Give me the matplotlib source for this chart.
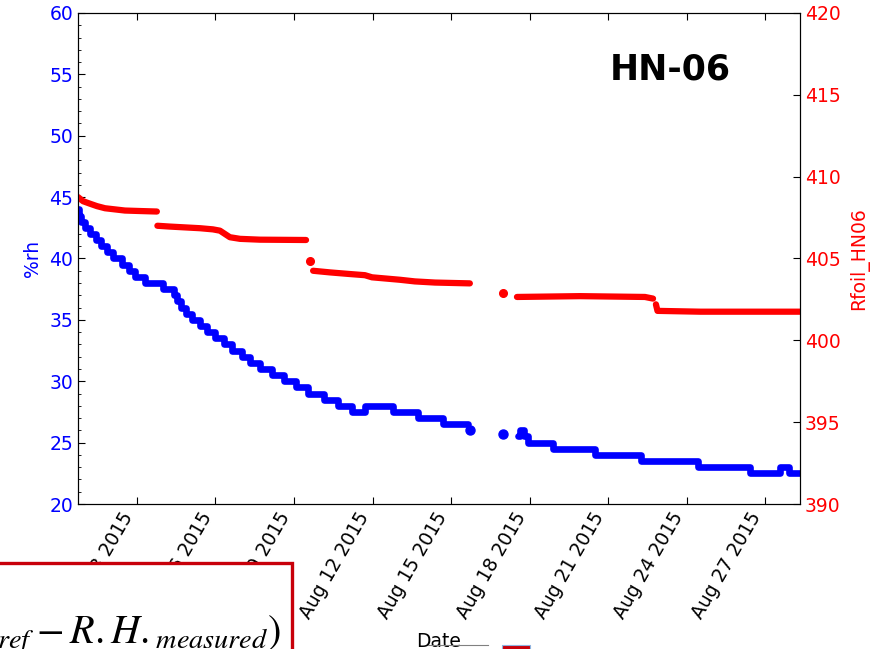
import matplotlib
matplotlib.use("Agg")
import matplotlib.pyplot as plt
import matplotlib.dates as mdates
from matplotlib.patches import Rectangle
from matplotlib.lines import Line2D
from datetime import datetime, timedelta

# humidity (%rh), held values: time in fractional days of August 2015
rh_days_a = [0.75, 0.80, 0.86, 1.01, 1.20, 1.43, 1.62, 1.85, 2.08, 2.43, 2.69, 2.92, 3.31,
             3.99, 4.41, 4.53, 4.68, 4.87, 5.10, 5.41, 5.68, 5.98, 6.32, 6.63, 7.01, 7.32,
             7.70, 8.16, 8.62, 9.08, 9.53, 10.15, 10.68, 11.22, 11.71, 12.78, 13.74, 14.69, 15.65]
rh_vals_a = [44.0, 43.5, 43.0, 42.5, 42.0, 41.5, 41.0, 40.5, 40.0, 39.5, 39.0, 38.5, 38.0,
             37.5, 37.0, 36.5, 36.0, 35.5, 35.0, 34.5, 34.0, 33.5, 33.0, 32.5, 32.0, 31.5,
             31.0, 30.5, 30.0, 29.5, 29.0, 28.5, 28.0, 27.5, 28.0, 27.5, 27.0, 26.5, 26.5]
rh_days_b = [17.56, 17.62, 17.79, 17.94, 18.90, 20.50, 22.26, 24.44, 26.42, 27.57, 27.92, 28.33]
rh_vals_b = [25.5, 26.0, 25.5, 25.0, 24.5, 24.0, 23.5, 23.0, 22.5, 23.0, 22.5, 22.5]
rh_single_days = [15.72, 16.97]
rh_single_vals = [26.0, 25.7]

# foil resistance
rf_segments = [
    ([0.75, 0.94, 1.20, 1.47, 1.78, 2.16, 2.54, 3.12, 3.76],
     [408.75, 408.5, 408.35, 408.2, 408.07, 408.0, 407.93, 407.9, 407.87]),
    ([3.78, 4.26, 5.41, 5.90, 6.17, 6.36, 6.55, 6.94, 7.70, 9.46],
     [407.0, 406.95, 406.85, 406.78, 406.7, 406.5, 406.3, 406.2, 406.15, 406.13]),
    ([9.73, 10.38, 11.14, 11.71, 11.98, 12.48, 13.05, 13.62, 14.39, 15.72],
     [404.25, 404.15, 404.05, 403.98, 403.85, 403.78, 403.7, 403.6, 403.53, 403.48]),
    ([17.52, 19.93, 22.41, 22.72],
     [402.65, 402.7, 402.65, 402.55]),
    ([22.83, 22.89, 24.53, 28.33],
     [402.2, 401.8, 401.75, 401.75]),
]
rf_single_days = [9.61, 16.97]
rf_single_vals = [404.85, 402.92]

start = datetime(2015, 8, 1)


def to_dates(days):
    return [start + timedelta(days=d - 1) for d in days]


fig = plt.figure(figsize=(8.87, 6.49), dpi=100)
ax = fig.add_axes([0.0879, 0.2234, 0.8140, 0.7566])
ax2 = ax.twinx()

ax.plot(to_dates(rh_days_a), rh_vals_a, drawstyle="steps-post", color="blue", lw=4.8,
        solid_capstyle="round", solid_joinstyle="round")
ax.plot(to_dates(rh_days_b), rh_vals_b, drawstyle="steps-post", color="blue", lw=4.8,
        solid_capstyle="round", solid_joinstyle="round")
ax.plot(to_dates(rh_single_days), rh_single_vals, "o", color="blue", ms=6.5, mec="blue")

for days, vals in rf_segments:
    ax2.plot(to_dates(days), vals, color="red", lw=4.5,
             solid_capstyle="round", solid_joinstyle="round")
ax2.plot(to_dates(rf_single_days), rf_single_vals, "o", color="red", ms=5.5, mec="red")

fs = 13.5
ax.set_xlim(to_dates([0.745, 28.335]))
ax.set_ylim(20, 60)
ax2.set_ylim(390, 420)
ax.yaxis.set_major_locator(plt.MultipleLocator(5))
ax.yaxis.set_minor_locator(plt.MultipleLocator(1))
ax2.yaxis.set_major_locator(plt.MultipleLocator(5))
ax.xaxis.set_major_locator(mdates.DayLocator(bymonthday=[3, 6, 9, 12, 15, 18, 21, 24, 27, 30]))
ax.xaxis.set_major_formatter(mdates.DateFormatter("%b %d %Y"))

ax.tick_params(axis="x", which="both", direction="in", top=True, length=5, labelsize=fs)
ax.tick_params(axis="y", which="major", direction="in", length=5, labelsize=fs, labelcolor="blue")
ax.tick_params(axis="y", which="minor", direction="in", length=2.5)
ax2.tick_params(axis="y", direction="in", length=5, labelsize=fs, labelcolor="red")
for lbl in ax.get_xticklabels():
    lbl.set_rotation(60)
    lbl.set_ha("right")

ax.set_ylabel("%rh", color="blue", fontsize=fs, labelpad=5)
ax2.set_ylabel("Rfoil_HN06", color="red", fontsize=fs, labelpad=6)
ax.set_xlabel("Date", fontsize=fs, labelpad=7)
ax.text(0.82, 0.884, "HN-06", transform=ax.transAxes, fontsize=25, fontweight="bold",
        ha="center", va="center")

# formula box in the lower left corner
fig.patches.append(Rectangle((-0.02, -0.02), 0.349, 0.1525, transform=fig.transFigure,
                             facecolor="white", edgecolor="#c8000a", lw=2.4, zorder=5))
fig.text(0.316, 0.009, r"$\left(R.H._{ref}-R.H._{measured}\right)$", fontsize=29,
         math_fontfamily="stix", ha="right", va="baseline", zorder=6)

# bits of a legend strip along the bottom edge
fig.lines.append(Line2D([428 / 887, 488 / 887], [4 / 649, 4 / 649], transform=fig.transFigure,
                        color="gray", lw=0.8))
fig.patches.append(Rectangle((502 / 887, -0.01), 28 / 887, 0.0162, transform=fig.transFigure,
                             facecolor="#c8000a", edgecolor="#8fb4e0", lw=0.8))

plt.savefig("out.png", dpi=100)
